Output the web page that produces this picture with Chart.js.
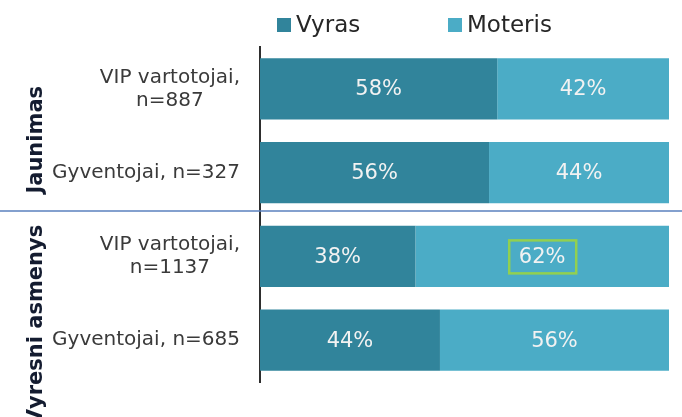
<!DOCTYPE html>
<html>
<head>
<meta charset="utf-8">
<script src="https://cdn.jsdelivr.net/npm/chart.js@4"></script>
<style>
html,body{margin:0;padding:0;background:#fff;}
canvas{display:block;}
</style>
</head>
<body>
<canvas id="c" width="682" height="417"></canvas>
<script>
const categories = [["VIP vartotojai,", "n=887"], ["Gyventojai, n=327"], ["VIP vartotojai,", "n=1137"], ["Gyventojai, n=685"]];
const groups = ["Jaunimas", "Vyresni asmenys"];
const groupSizes = [2, 2];
const seriesNames = ["Vyras", "Moteris"];
const vyras = [58, 56, 38, 44];
const moteris = [42, 44, 62, 56];
const highlighted = { dataset: 1, index: 2 };

const colors = ["#31849B", "#4BACC6"];
const FONT = "'DejaVu Sans', Verdana, sans-serif";

const overlay = {
  id: 'overlay',
  afterDatasetsDraw(chart) {
    const ctx = chart.ctx;
    const y = chart.scales.y;
    const area = chart.chartArea;
    ctx.save();
    // data labels
    ctx.font = "21px " + FONT;
    ctx.fillStyle = "#F2F2F2";
    ctx.textAlign = "center";
    ctx.textBaseline = "middle";
    chart.data.datasets.forEach((ds, di) => {
      chart.getDatasetMeta(di).data.forEach((el, i) => {
        const cx = (el.x + el.base) / 2;
        ctx.fillText(ds.data[i] + "%", cx, el.y + 1);
        if (di === highlighted.dataset && i === highlighted.index) {
          ctx.strokeStyle = "#92D050";
          ctx.lineWidth = 2.5;
          ctx.strokeRect(cx - 33, el.y - 16, 67, 33);
        }
      });
    });
    // category labels
    ctx.font = "20px " + FONT;
    ctx.fillStyle = "#3A3A3A";
    const rightEdge = area.left - 20;
    categories.forEach((lines, i) => {
      const cy = y.getPixelForValue(i);
      const maxW = Math.max(...lines.map(l => ctx.measureText(l).width));
      const cx = rightEdge - maxW / 2;
      const lh = 23;
      lines.forEach((l, k) => {
        ctx.fillText(l, cx, cy + (k - (lines.length - 1) / 2) * lh);
      });
    });
    // separator
    let start = 0;
    for (let g = 0; g < groups.length - 1; g++) {
      start += groupSizes[g];
      const sy = (y.getPixelForValue(start - 1) + y.getPixelForValue(start)) / 2 - 3.5;
      ctx.strokeStyle = "#5A80BE";
      ctx.lineWidth = 1.5;
      ctx.beginPath();
      ctx.moveTo(0, sy);
      ctx.lineTo(chart.width, sy);
      ctx.stroke();
    }
    // group labels
    ctx.font = "bold 21px " + FONT;
    ctx.fillStyle = "#141C30";
    ctx.textBaseline = "alphabetic";
    start = 0;
    groups.forEach((g, gi) => {
      const first = y.getPixelForValue(start);
      const last = y.getPixelForValue(start + groupSizes[gi] - 1);
      let cy = (first + last) / 2 + 9;
      if (gi === 1) cy = 325;
      ctx.save();
      ctx.translate(42, cy);
      ctx.rotate(-Math.PI / 2);
      ctx.textAlign = "center";
      ctx.fillText(g, 0, 0);
      ctx.restore();
      start += groupSizes[gi];
    });
    // legend
    ctx.font = "23px " + FONT;
    ctx.textAlign = "left";
    ctx.textBaseline = "middle";
    const legendX = [277, 448];
    chart.data.datasets.forEach((ds, di) => {
      ctx.fillStyle = ds.backgroundColor;
      ctx.fillRect(legendX[di], 18, 14, 14);
      ctx.fillStyle = "#262626";
      ctx.fillText(ds.label, legendX[di] + 19, 26);
    });
    ctx.restore();
  }
};

new Chart(document.getElementById('c'), {
  type: 'bar',
  data: {
    labels: categories,
    datasets: [
      { label: seriesNames[0], data: vyras, backgroundColor: colors[0] },
      { label: seriesNames[1], data: moteris, backgroundColor: colors[1] }
    ]
  },
  options: {
    indexAxis: 'y',
    responsive: false,
    animation: false,
    barPercentage: 0.73,
    categoryPercentage: 1,
    layout: { padding: { top: 47, bottom: 35, right: 13, left: 0 } },
    plugins: { legend: { display: false }, tooltip: { enabled: false } },
    scales: {
      x: { stacked: true, min: 0, max: 100, display: false },
      y: {
        stacked: true,
        grid: { display: false },
        border: { display: true, color: "#2E2E2E", width: 2 },
        ticks: { display: false },
        afterFit(scale) { scale.width = 260; }
      }
    }
  },
  plugins: [overlay]
});
</script>
</body>
</html>
